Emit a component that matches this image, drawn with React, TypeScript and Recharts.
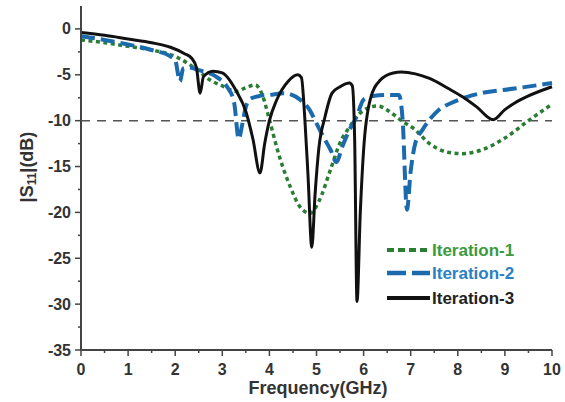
import { LineChart, Line, XAxis, YAxis, ReferenceLine, Legend } from "recharts";

const freq1 = [0, 0.5, 1.0, 1.5, 2.0, 2.25, 2.5, 2.75, 3.0, 3.3, 3.5, 3.7, 3.85, 4.0, 4.2, 4.45, 4.65, 4.86, 5.05, 5.3, 5.5, 5.7, 5.9, 6.1, 6.3, 6.55, 6.8, 7.05, 7.4, 7.75, 8.1, 8.5, 9.0, 9.5, 10];
const iter1 = [-1.2, -1.5, -1.9, -2.3, -3.0, -3.7, -4.6, -5.6, -6.2, -6.8, -6.4, -6.1, -7.2, -9.9, -13.7, -17.3, -19.4, -20.1, -18.8, -15.3, -12.4, -10.7, -9.3, -8.6, -8.4, -9.0, -10.0, -10.8, -12.5, -13.4, -13.6, -13.2, -11.9, -10.0, -8.2];

const freq2 = [0, 0.5, 1.0, 1.5, 1.9, 2.0, 2.1, 2.17, 2.3, 2.5, 2.9, 3.1, 3.25, 3.35, 3.42, 3.5, 3.6, 3.8, 4.0, 4.3, 4.65, 4.85, 5.0, 5.15, 5.3, 5.42, 5.55, 5.7, 5.85, 6.0, 6.2, 6.5, 6.75, 6.83, 6.92, 7.0, 7.1, 7.25, 7.4, 7.6, 7.85, 8.2, 8.5, 9.2, 10];
const iter2 = [-0.8, -1.2, -1.7, -2.3, -3.0, -3.4, -5.7, -4.3, -4.2, -4.5, -5.3, -6.3, -8.0, -12.0, -10.5, -8.5, -7.6, -7.3, -7.2, -7.0, -7.7, -8.8, -10.3, -11.8, -13.2, -14.5, -12.8, -11.0, -9.6, -7.7, -7.3, -7.2, -7.2, -10.0, -19.7, -15.5, -12.4, -11.0, -9.9, -8.8, -8.1, -7.4, -7.0, -6.5, -5.9];

const freq3 = [0, 0.5, 1.0, 1.5, 1.9, 2.2, 2.35, 2.45, 2.53, 2.6, 2.8, 3.0, 3.3, 3.5, 3.65, 3.8, 3.9, 4.0, 4.15, 4.4, 4.6, 4.68, 4.75, 4.82, 4.9, 4.97, 5.05, 5.18, 5.33, 5.5, 5.7, 5.76, 5.81, 5.86, 5.93, 6.0, 6.14, 6.35, 6.63, 6.8, 7.1, 7.4, 7.8, 8.1, 8.4, 8.75, 9.0, 9.2, 9.5, 10];
const iter3 = [-0.4, -0.7, -1.1, -1.5, -2.0, -2.7, -3.2, -4.2, -7.0, -5.2, -4.6, -4.8, -6.8, -9.0, -12.0, -15.7, -12.5, -10.0, -7.8, -5.7, -5.0, -5.3, -9.6, -16.0, -23.8, -18.0, -13.0, -9.6, -7.0, -6.3, -5.9, -6.2, -12.0, -29.7, -20.0, -13.2, -7.7, -5.6, -4.8, -4.7, -4.9, -5.4, -6.5, -7.4, -8.5, -9.9, -8.8, -8.1, -7.3, -6.3];

const xTicks = [0, 0.5, 1, 1.5, 2, 2.5, 3, 3.5, 4, 4.5, 5, 5.5, 6, 6.5, 7, 7.5, 8, 8.5, 9, 9.5, 10];
const yTicks = [0, -2.5, -5, -7.5, -10, -12.5, -15, -17.5, -20, -22.5, -25, -27.5, -30, -32.5, -35];

const toData = (fs: number[], vs: number[]) => fs.map((f, i) => ({ f, s: vs[i] }));
const data1 = toData(freq1, iter1);
const data2 = toData(freq2, iter2);
const data3 = toData(freq3, iter3);

const FONT = '"Liberation Sans", Arial, sans-serif';
const GREEN = "#2b7d33";
const BLUE = "#1b6aae";

function XTick({ x, y, payload }: any) {
  const major = Number.isInteger(payload.value);
  return (
    <g>
      <line x1={x} x2={x} y1={y} y2={y + (major ? 6 : 3)} stroke="#444" strokeWidth={1.5} />
      {major && (
        <text x={x} y={y + 19} textAnchor="middle" dominantBaseline="central" fontFamily={FONT} fontWeight="bold" fontSize={16} fill="#333">
          {payload.value}
        </text>
      )}
    </g>
  );
}

function YTick({ x, y, payload }: any) {
  const major = payload.value % 5 === 0;
  return (
    <g>
      <line x1={x} x2={x - (major ? 6 : 3)} y1={y} y2={y} stroke="#444" strokeWidth={1.5} />
      {major && (
        <text x={x - 10} y={y} textAnchor="end" dominantBaseline="central" fontFamily={FONT} fontWeight="bold" fontSize={16} fill="#333">
          {payload.value}
        </text>
      )}
    </g>
  );
}

function YLabel() {
  return (
    <text x={27} y={167} transform="rotate(-90 27 167)" textAnchor="middle" dominantBaseline="central" fontFamily={FONT} fontWeight="bold" fontSize={18} fill="#333">
      |S<tspan fontSize={12} dy={5}>11</tspan>
      <tspan dy={-5}>|(dB)</tspan>
    </text>
  );
}

function LegendBox() {
  const rows = [
    { label: "Iteration-1", color: GREEN, text: "#3a9a3e", dash: "7 4", w: 4, y: 13 },
    { label: "Iteration-2", color: BLUE, text: "#2a80c2", dash: "19 6", w: 4.5, y: 36 },
    { label: "Iteration-3", color: "#111", text: "#222", dash: undefined, w: 4, y: 61 },
  ];
  return (
    <svg width={150} height={75}>
      {rows.map((r) => (
        <g key={r.label}>
          <line x1={2} x2={45} y1={r.y} y2={r.y} stroke={r.color} strokeWidth={r.w} strokeDasharray={r.dash} />
          <text x={47} y={r.y} dominantBaseline="central" fontFamily={FONT} fontWeight="bold" fontSize={17} fill={r.text}>
            {r.label}
          </text>
        </g>
      ))}
    </svg>
  );
}

export default function App() {
  return (
    <div style={{ position: "absolute", left: 0, top: 0, background: "#fff" }}>
      <LineChart width={565} height={402} margin={{ top: 6, right: 13, bottom: 0, left: 0 }}>
        <XAxis
          type="number"
          dataKey="f"
          domain={[0, 10]}
          ticks={xTicks}
          interval={0}
          height={52}
          tickSize={0}
          tickMargin={0}
          tickLine={false}
          tick={<XTick />}
          axisLine={{ stroke: "#444", strokeWidth: 2 }}
          allowDuplicatedCategory={false}
        />
        <YAxis
          type="number"
          domain={[-35, 2.5]}
          ticks={yTicks}
          interval={0}
          width={81}
          tickSize={0}
          tickMargin={0}
          tickLine={false}
          tick={<YTick />}
          axisLine={{ stroke: "#444", strokeWidth: 2 }}
          label={<YLabel />}
        />
        <text x={318} y={388} textAnchor="middle" dominantBaseline="central" fontFamily={FONT} fontWeight="bold" fontSize={18} fill="#333">
          Frequency(GHz)
        </text>
        <ReferenceLine y={-10} stroke="#555" strokeWidth={1.5} strokeDasharray="9 7" />
        <Line data={data1} dataKey="s" type="monotone" stroke={GREEN} strokeWidth={3.5} strokeDasharray="4 3.5" dot={false} isAnimationActive={false} />
        <Line data={data2} dataKey="s" type="monotone" stroke={BLUE} strokeWidth={4} strokeDasharray="14 6" dot={false} isAnimationActive={false} />
        <Line data={data3} dataKey="s" type="monotone" stroke="#111" strokeWidth={3} dot={false} isAnimationActive={false} />
        <Legend
          layout="vertical"
          align="center"
          verticalAlign="middle"
          content={<LegendBox />}
          wrapperStyle={{ left: 385, top: 237, width: 150, height: 75 }}
        />
      </LineChart>
    </div>
  );
}
